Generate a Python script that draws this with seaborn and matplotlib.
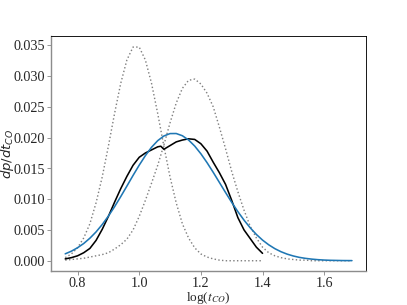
import numpy as np
import pandas as pd
import matplotlib
matplotlib.use("Agg")
import matplotlib.pyplot as plt
import seaborn as sns

# log(t_CO) grids
x_short = [0.76, 0.78, 0.80, 0.82, 0.84, 0.86, 0.88, 0.90, 0.92, 0.94, 0.96, 0.98,
           1.00, 1.02, 1.04, 1.06, 1.08, 1.10, 1.12, 1.14, 1.16, 1.18, 1.20, 1.22,
           1.24, 1.26, 1.28, 1.30, 1.32, 1.34, 1.36, 1.38, 1.40]
x_long = x_short + [1.42, 1.44, 1.46, 1.48, 1.50, 1.52, 1.54, 1.56, 1.58, 1.60,
                    1.62, 1.64, 1.66, 1.69]

# measured distribution (black)
x_black = [0.76, 0.78, 0.80, 0.82, 0.84, 0.86, 0.88, 0.90, 0.92, 0.94, 0.96, 0.98,
           1.00, 1.02, 1.04, 1.06, 1.07, 1.08, 1.10, 1.12, 1.14, 1.16, 1.18, 1.20,
           1.22, 1.24, 1.26, 1.28, 1.30, 1.32, 1.34, 1.36, 1.38, 1.40]
y_black = [0.0003, 0.0005, 0.0008, 0.0013, 0.0020, 0.0033, 0.0051, 0.0072, 0.0095,
           0.0117, 0.0137, 0.0155, 0.0168, 0.0175, 0.0180, 0.0185, 0.0186, 0.0181,
           0.0187, 0.0193, 0.0196, 0.0198, 0.0197, 0.0190, 0.0178, 0.0160, 0.0143,
           0.0124, 0.0098, 0.0070, 0.0050, 0.0036, 0.0022, 0.0012]

# fitted curve (blue)
y_fit = [0.00112, 0.00155, 0.00211, 0.00280, 0.00366, 0.00468, 0.00588, 0.00725,
         0.00877, 0.01041, 0.01212, 0.01385, 0.01552, 0.01707, 0.01843, 0.01950,
         0.02026, 0.02065, 0.02066, 0.02030, 0.01961, 0.01862, 0.01737, 0.01593,
         0.01436, 0.01272, 0.01108, 0.00948, 0.00797, 0.00659, 0.00535, 0.00427,
         0.00335, 0.00259, 0.00196, 0.00146, 0.00107, 0.00077, 0.00054, 0.00038,
         0.00026, 0.00017, 0.00011, 0.00007, 0.00005, 0.00003, 0.00002]

# component curves (dotted)
y_comp1 = [0.0005, 0.0011, 0.0021, 0.0037, 0.0060, 0.0094, 0.0136, 0.0186, 0.0239,
           0.0288, 0.0326, 0.0347, 0.0347, 0.0326, 0.0288, 0.0239, 0.0186, 0.0136,
           0.0094, 0.0060, 0.0037, 0.0021, 0.0011, 0.0006, 0.0003, 0.0001, 0.0,
           0.0, 0.0, 0.0, 0.0, 0.0, 0.0]
y_comp2 = [0.0001, 0.0002, 0.0003, 0.0004, 0.0006, 0.0008, 0.0010, 0.0013, 0.0019,
           0.0026, 0.0035, 0.0050, 0.0072, 0.0098, 0.0126, 0.0155, 0.0188, 0.0224,
           0.0256, 0.0280, 0.0293, 0.0295, 0.0287, 0.0272, 0.0250, 0.0217, 0.0182,
           0.0145, 0.0112, 0.0082, 0.0056, 0.0037, 0.0022, 0.0013, 0.0008, 0.0005,
           0.0003, 0.0002, 0.0001, 0.0001, 0.0, 0.0, 0.0, 0.0, 0.0, 0.0, 0.0]

sns.set_style("white")
plt.rcParams["font.family"] = ["Liberation Serif", "DejaVu Serif"]
plt.rcParams["font.size"] = 15
plt.rcParams["xtick.labelsize"] = 16
plt.rcParams["ytick.labelsize"] = 16

fig, ax = plt.subplots(figsize=(6.4, 4.8), dpi=407 / 6.4)

sns.lineplot(x=x_short, y=y_comp1, ax=ax, color="gray", linestyle=":", linewidth=1.6)
sns.lineplot(x=x_long, y=y_comp2, ax=ax, color="gray", linestyle=":", linewidth=1.6)
sns.lineplot(x=x_black, y=y_black, ax=ax, color="black", linewidth=1.8)
sns.lineplot(x=x_long, y=y_fit, ax=ax, color="#1f77b4", linewidth=1.8)

ax.set_xticks([0.8, 1.0, 1.2, 1.4, 1.6])
ax.set_yticks([0.000, 0.005, 0.010, 0.015, 0.020, 0.025, 0.030, 0.035])
ax.set_yticklabels(["%.3f" % v for v in ax.get_yticks()])
ax.set_xticklabels(["%.1f" % v for v in ax.get_xticks()])

ax.set_xlabel(r"log($t_{CO}$)", math_fontfamily="stix", fontsize=15)
ax.set_ylabel(r"$dp/dt_{CO}$", math_fontfamily="dejavusans", fontsize=15)
ax.xaxis.set_label_coords(0.5, -0.08)
ax.yaxis.set_label_coords(-0.11, 0.5)

for side in ["left", "bottom"]:
    ax.spines[side].set_color("#8c8c8c")
    ax.spines[side].set_linewidth(1.6)
for side in ["top", "right"]:
    ax.spines[side].set_color("black")
    ax.spines[side].set_linewidth(1.0)
ax.tick_params(axis="both", which="major", direction="out", length=4, width=1,
               pad=2.5, color="#8c8c8c", left=True, bottom=True)
ax.tick_params(axis="x", pad=1.5)

fig.savefig("out.png", dpi=407 / 6.4)
